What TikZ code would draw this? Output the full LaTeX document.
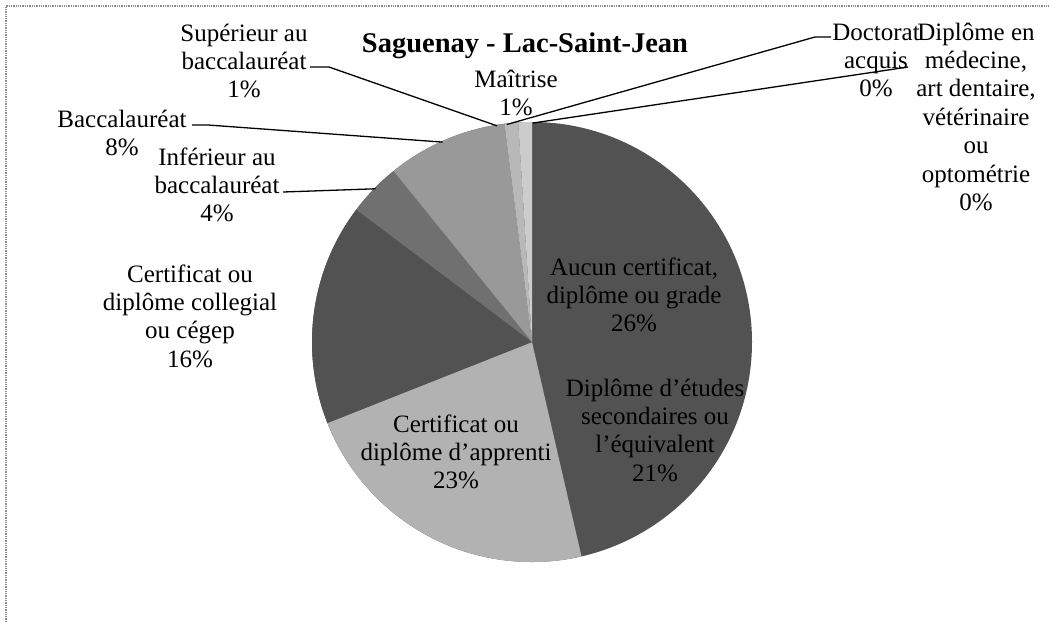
\documentclass[tikz,border=0pt]{standalone}
\usepackage{fontspec}
\setmainfont{Liberation Serif}
\begin{document}
\begin{tikzpicture}[x=1pt,y=-1pt,
  lbl/.style={font=\fontsize{25}{28.4}\selectfont, align=center, inner sep=0pt, anchor=north},
  leader/.style={draw=black, line width=1.3pt, line join=round},
  frame/.style={draw=black!45, densely dotted, line width=1.3pt}]
\useasboundingbox (0,0) rectangle (1049,622);
\fill[white] (0,0) rectangle (1049,622);
\draw[frame] (6,622) -- (6,6) -- (1049,6);

% pie: the y axis points down, so angles run clockwise and -90 is the top
\coordinate (c) at (532,342);
\def\pieR{220}
\newcommand\piewedge[3]{\fill[#3] (c) -- ++(#1:\pieR) arc[start angle=#1, end angle=#2, radius=\pieR] -- cycle;}
% dark base disc; the two dark wedges on the right share its tone
\fill[black!68] (c) circle[radius=\pieR];
\piewedge{77}{158.4}{black!30}   % Certificat d'apprenti
\piewedge{158.4}{217}{black!68}  % Collegial ou cegep
\piewedge{217}{231}{black!56}    % Inferieur au baccalaureat
\piewedge{231}{262.8}{black!40}  % Baccalaureat
\piewedge{262.8}{266.4}{black!28}% Superieur au baccalaureat
\piewedge{266.4}{270}{black!20}  % Maitrise

% title
\node[anchor=base, inner sep=0pt, font=\bfseries\fontsize{28.5}{32}\selectfont] (title) at (525,52) {Saguenay - Lac-Saint-Jean};

% labels inside the pie
\node[lbl] (aucL) at (634,255) {\strut Aucun certificat,\\diplôme ou grade\\26\%};
\node[lbl] (depL) at (655,376) {\strut Diplôme d'études\\secondaires ou\\l'équivalent\\21\%};
\node[lbl] (appL) at (456,412) {\strut Certificat ou\\diplôme d'apprenti\\23\%};

% labels outside the pie
\node[lbl] (colL) at (190,262) {\strut Certificat ou\\diplôme collegial\\ou cégep\\16\%};
\node[lbl] (infL) at (217,145) {\strut Inférieur au\\baccalauréat\\4\%};
\node[lbl] (bacL) at (122,107) {\strut Baccalauréat\\8\%};
\node[lbl] (supL) at (244,21) {\strut Supérieur au\\baccalauréat\\1\%};
\node[lbl] (maiL) at (516,67) {\strut Maîtrise\\1\%};
\node[lbl] (docL) at (876,20) {\strut Doctorat\\acquis\\0\%};
\node[lbl] (medL) at (976,20) {\strut Diplôme en\\médecine,\\art dentaire,\\vétérinaire\\ou\\optométrie\\0\%};

% points on the rim where the leader lines end
\path (c) ++(-99.2:219) coordinate (eSup);
\path (c) ++(-114.1:219) coordinate (eBac);
\path (c) ++(-135.6:219) coordinate (eInf);
\path (c) ++(-96.6:219) coordinate (eDoc);
\path (c) ++(-89.7:219) coordinate (eMed);

% free ends and bends of the leader lines, next to their labels
\coordinate (sSup) at (310,67);
\coordinate (kSup) at (329,67);
\coordinate (sBac) at (192,125);
\coordinate (kBac) at (208,125);
\coordinate (sInf) at (283,192);
\coordinate (sDoc) at (831,37);
\coordinate (kDoc) at (815,37);
\coordinate (sMed) at (908,67);

\draw[leader] (sSup) -- (kSup) -- (eSup);
\draw[leader] (sBac) -- (kBac) -- (eBac);
\draw[leader] (sInf) -- (eInf);
\draw[leader] (sDoc) -- (kDoc) -- (eDoc);
\draw[leader] (sMed) -- (eMed);
\end{tikzpicture}
\end{document}
